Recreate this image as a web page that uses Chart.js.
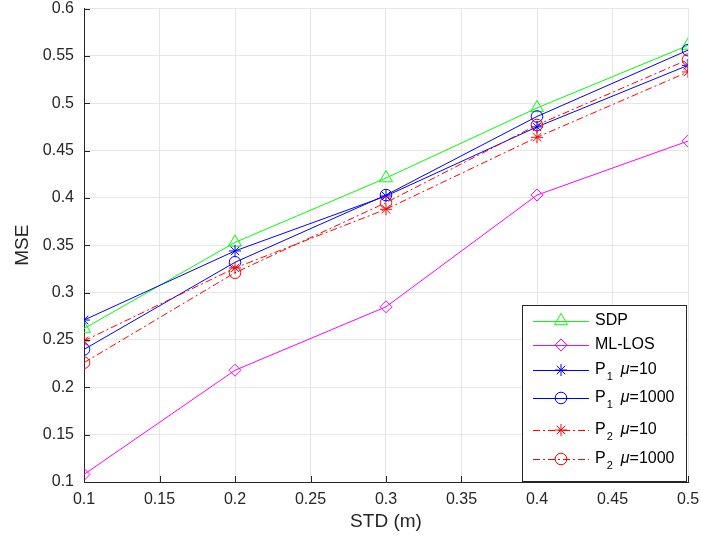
<!DOCTYPE html>
<html>
<head>
<meta charset="utf-8">
<script src="https://cdn.jsdelivr.net/npm/chart.js@4.4.1/dist/chart.umd.min.js"></script>
<style>
  html, body { margin: 0; padding: 0; background: #fff; }
  #wrap { width: 701px; height: 548px; }
</style>
</head>
<body>
<div id="wrap"><canvas id="mseChart" width="701" height="548"></canvas></div>
<script>
// STD values on the x axis and MSE of each method
const stdValues = [0.1, 0.2, 0.3, 0.4, 0.5];
const sdp       = [0.262, 0.353, 0.421, 0.495, 0.561];
const mlLos     = [0.108, 0.218, 0.285, 0.403, 0.460];
const p1Mu10    = [0.271, 0.344, 0.402, 0.475, 0.540];
const p1Mu1000  = [0.240, 0.332, 0.403, 0.486, 0.556];
const p2Mu10    = [0.249, 0.326, 0.388, 0.464, 0.533];
const p2Mu1000  = [0.226, 0.321, 0.395, 0.477, 0.546];

// legend entries: main text, subscript, rest (mu part)
const legendNames = [
  ['SDP', '', ''],
  ['ML-LOS', '', ''],
  ['P', '1', '=10'],
  ['P', '1', '=1000'],
  ['P', '2', '=10'],
  ['P', '2', '=1000']
];

const FONT = 'Liberation Sans, Arial, Helvetica, sans-serif';
const TEXT = '#262626';
const dashDot = [7, 3, 2, 3];

function toXY(ys) {
  return ys.map((y, i) => ({ x: stdValues[i], y: y }));
}

function series(label, ys, color, style, radius, dash, order) {
  return {
    label: label,
    data: toXY(ys),
    borderColor: color,
    backgroundColor: 'rgba(0,0,0,0)',
    borderWidth: 1,
    borderDash: dash,
    pointStyle: style,
    pointRadius: radius,
    pointBorderColor: color,
    pointBackgroundColor: 'rgba(0,0,0,0)',
    pointBorderWidth: 1,
    tension: 0,
    order: order
  };
}

const datasets = [
  series('SDP', sdp, '#00ff00', 'triangle', 7.5, [], 6),
  series('ML-LOS', mlLos, '#ff00ff', 'rectRot', 6, [], 5),
  series('P1 mu=10', p1Mu10, '#0000ff', 'star', 6, [], 4),
  series('P1 mu=1000', p1Mu1000, '#0000ff', 'circle', 5.8, [], 3),
  series('P2 mu=10', p2Mu10, '#ff0000', 'star', 6, dashDot, 2),
  series('P2 mu=1000', p2Mu1000, '#ff0000', 'circle', 5.8, dashDot, 1)
];

// small tick marks pointing into the plot, MATLAB style
const innerTicks = {
  id: 'innerTicks',
  afterDatasetsDraw(chart) {
    const ctx = chart.ctx;
    const area = chart.chartArea;
    const xs = chart.scales.x, ys = chart.scales.y;
    ctx.save();
    ctx.strokeStyle = TEXT;
    ctx.lineWidth = 1;
    ctx.beginPath();
    xs.ticks.forEach(t => {
      const px = Math.round(xs.getPixelForValue(t.value)) + 0.5;
      ctx.moveTo(px, area.bottom);
      ctx.lineTo(px, area.bottom - 6);
    });
    ys.ticks.forEach(t => {
      const py = Math.round(ys.getPixelForValue(t.value)) + 0.5;
      ctx.moveTo(area.left, py);
      ctx.lineTo(area.left + 6, py);
    });
    ctx.stroke();
    ctx.restore();
  }
};

// legend box in the lower right corner
const boxLegend = {
  id: 'boxLegend',
  afterDraw(chart) {
    const ctx = chart.ctx;
    const left = 522, top = 305, right = 686, bottom = 481;
    const rows = [321, 345, 370, 398, 430, 459];
    ctx.save();
    ctx.fillStyle = '#fff';
    ctx.fillRect(left, top, right - left, bottom - top);
    ctx.strokeStyle = TEXT;
    ctx.lineWidth = 1;
    ctx.strokeRect(left + 0.5, top + 0.5, right - left, bottom - top);

    datasets.forEach((ds, i) => {
      const y = rows[i];
      ctx.strokeStyle = ds.borderColor;
      ctx.lineWidth = 1;
      ctx.setLineDash(ds.borderDash);
      ctx.beginPath();
      ctx.moveTo(533, y + 0.5);
      ctx.lineTo(589, y + 0.5);
      ctx.stroke();
      ctx.setLineDash([]);
      ctx.strokeStyle = ds.borderColor;
      ctx.fillStyle = 'rgba(0,0,0,0)';
      Chart.helpers.drawPoint(ctx, {
        pointStyle: ds.pointStyle,
        radius: ds.pointRadius,
        rotation: 0,
        borderWidth: 1
      }, 561, y);

      const [main, sub, rest] = legendNames[i];
      let x = 595;
      ctx.fillStyle = '#000';
      ctx.textBaseline = 'middle';
      ctx.font = '16px ' + FONT;
      ctx.fillText(main, x, y);
      x += ctx.measureText(main).width;
      if (sub) {
        ctx.font = '11px ' + FONT;
        ctx.fillText(sub, x + 1, y + 7);
        x += ctx.measureText(sub).width + 9;
        ctx.font = 'italic 16px ' + FONT;
        ctx.fillText('\u03bc', x, y);
        x += ctx.measureText('\u03bc').width;
        ctx.font = '16px ' + FONT;
        ctx.fillText(rest, x, y);
      }
    });
    ctx.restore();
  }
};

const ctx = document.getElementById('mseChart').getContext('2d');
const mseChart = new Chart(ctx, {
  type: 'line',
  data: { datasets: datasets },
  options: {
    responsive: false,
    animation: false,
    layout: { padding: { left: 0, right: 13, top: 6, bottom: 0 } },
    plugins: {
      legend: { display: false },
      tooltip: { enabled: false }
    },
    scales: {
      x: {
        type: 'linear',
        min: 0.1,
        max: 0.5,
        ticks: {
          stepSize: 0.05,
          color: TEXT,
          font: { family: FONT, size: 16 },
          padding: 8,
          maxRotation: 0,
          callback: v => String(+v.toFixed(2))
        },
        grid: { color: '#e6e6e6', drawTicks: false },
        border: { display: true, color: TEXT, width: 1 },
        title: {
          display: true,
          text: 'STD (m)',
          color: TEXT,
          font: { family: FONT, size: 19 },
          padding: { top: 0, bottom: 15 }
        },
        afterFit(scale) {
          scale.height = 66;
          scale.paddingLeft = 0;
          scale.paddingRight = 0;
        }
      },
      y: {
        type: 'linear',
        min: 0.1,
        max: 0.6,
        ticks: {
          stepSize: 0.05,
          color: TEXT,
          font: { family: FONT, size: 16 },
          padding: 10,
          callback: v => String(+v.toFixed(2))
        },
        grid: { color: '#e6e6e6', drawTicks: false },
        border: { display: true, color: TEXT, width: 1 },
        title: {
          display: true,
          text: 'MSE',
          color: TEXT,
          font: { family: FONT, size: 19 },
          padding: { top: 11, bottom: 0 }
        },
        afterFit(scale) {
          scale.width = 84;
          scale.paddingTop = 0;
          scale.paddingBottom = 0;
        }
      }
    }
  },
  plugins: [innerTicks, boxLegend]
});
</script>
</body>
</html>
